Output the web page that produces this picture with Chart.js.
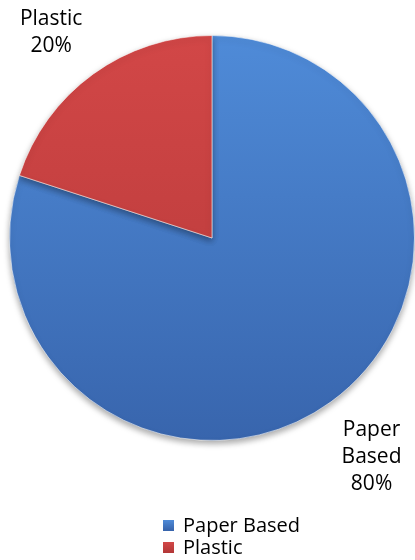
<!DOCTYPE html>
<html>
<head>
<meta charset="utf-8">
<script src="https://cdn.jsdelivr.net/npm/chart.js@4"></script>
<style>
    html, body { margin: 0; padding: 0; background: #fff; }
    #wrap { width: 415px; height: 560px; position: relative; }
</style>
</head>
<body>
<div id="wrap"><canvas id="pie"></canvas></div>
<script>
const categories = ["Paper Based", "Plastic"]
const shares = [80, 20]
const sliceLabels = [["Paper", "Based", "80%"], ["Plastic", "20%"]]
const baseColors = [["#4f8bd8", "#3865ad"], ["#d24747", "#b43838"]]

const FONT = "'Open Sans', 'Liberation Sans', sans-serif"

function sliceFill(ctx, i) {
    const area = ctx.chart.chartArea
    if (!area) return baseColors[i][0]
    const g = ctx.chart.ctx.createLinearGradient(0, area.top, 0, area.bottom)
    g.addColorStop(0, baseColors[i][0])
    g.addColorStop(1, baseColors[i][1])
    return g
}

// soft drop shadow under the whole pie
const shadowPlugin = {
    id: "pieShadow",
    beforeDatasetsDraw(chart) {
        const c = chart.ctx
        c.save()
        c.shadowColor = "rgba(0,0,0,0.35)"
        c.shadowBlur = 6
        c.shadowOffsetY = 3
    },
    afterDatasetsDraw(chart) {
        chart.ctx.restore()
    }
}

// labels outside each slice (box corner touching the mid-angle point), plus the legend
const labelPlugin = {
    id: "outerLabels",
    afterDraw(chart) {
        const c = chart.ctx
        const meta = chart.getDatasetMeta(0)
        const lh = 27
        c.save()
        c.font = "21px " + FONT
        c.fillStyle = "#000"
        c.textAlign = "center"
        c.textBaseline = "middle"
        meta.data.forEach((arc, i) => {
            const mid = (arc.startAngle + arc.endAngle) / 2
            const r = arc.outerRadius + 18
            const dx = Math.cos(mid), dy = Math.sin(mid)
            const ax = arc.x + dx * r
            const ay = arc.y + dy * r
            const lines = sliceLabels[i]
            const w = Math.max(...lines.map(t => c.measureText(t).width))
            const h = lines.length * lh
            const cx = ax + Math.sign(dx) * w / 2
            const cy = ay + Math.sign(dy) * h / 2
            lines.forEach((t, k) => {
                c.fillText(t, cx, cy + (k - (lines.length - 1) / 2) * lh)
            })
        })

        // legend
        const lx = 163, ly = 525, gap = 22
        c.font = "20px " + FONT
        c.textAlign = "left"
        categories.forEach((name, i) => {
            const y = ly + i * gap
            const g = c.createLinearGradient(0, y - 5, 0, y + 5)
            g.addColorStop(0, baseColors[i][0])
            g.addColorStop(1, baseColors[i][1])
            c.fillStyle = g
            c.fillRect(lx, y - 5, 11, 11)
            c.fillStyle = "#000"
            c.fillText(name, lx + 20, y + 1)
        })
        c.restore()
    }
}

new Chart(document.getElementById("pie"), {
    type: "pie",
    data: {
        labels: categories,
        datasets: [{
            data: shares,
            backgroundColor: ctx => sliceFill(ctx, ctx.dataIndex),
            borderColor: "rgba(255,255,255,0.55)",
            borderWidth: 1
        }]
    },
    options: {
        responsive: true,
        maintainAspectRatio: false,
        animation: false,
        layout: { padding: { left: 9, right: 0, top: 35, bottom: 119 } },
        plugins: {
            legend: { display: false },
            tooltip: { enabled: false }
        }
    },
    plugins: [shadowPlugin, labelPlugin]
})
</script>
</body>
</html>
